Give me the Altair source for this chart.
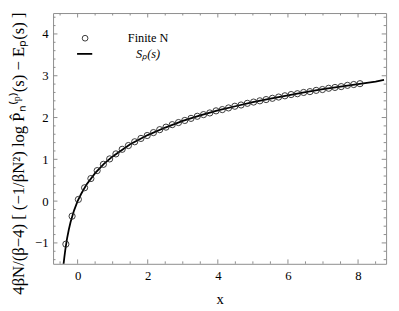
import altair as alt
import pandas as pd

# Finite N data (circles)
finite_x = [-0.335, -0.157, 0.022, 0.20, 0.379, 0.558, 0.736, 0.915, 1.093, 1.272,
            1.45, 1.629, 1.807, 1.986, 2.164, 2.343, 2.521, 2.70, 2.878, 3.057,
            3.235, 3.414, 3.592, 3.771, 3.949, 4.128, 4.306, 4.485, 4.663, 4.842,
            5.02, 5.199, 5.377, 5.556, 5.734, 5.913, 6.091, 6.27, 6.448, 6.627,
            6.805, 6.984, 7.162, 7.341, 7.519, 7.698, 7.876, 8.055]
finite_y = [-1.03, -0.36, 0.04, 0.32, 0.54, 0.73, 0.88, 1.01, 1.13, 1.24,
            1.33, 1.42, 1.50, 1.57, 1.64, 1.71, 1.77, 1.83, 1.88, 1.93,
            1.98, 2.03, 2.07, 2.11, 2.16, 2.19, 2.23, 2.27, 2.30, 2.34,
            2.37, 2.40, 2.43, 2.46, 2.49, 2.52, 2.55, 2.57, 2.60, 2.62,
            2.65, 2.67, 2.70, 2.72, 2.74, 2.77, 2.79, 2.81]

# S_p(s) curve
curve_x = [-0.41, -0.40, -0.38, -0.35, -0.30, -0.25, -0.20, -0.10, 0.0, 0.10,
           0.25, 0.50, 0.75, 1.0, 1.5, 2.0, 2.5, 3.0, 3.5, 4.0, 4.5, 5.0,
           5.5, 6.0, 6.5, 7.0, 7.5, 8.0, 8.5, 8.74]
curve_y = [-1.62, -1.50, -1.36, -1.16, -0.89, -0.68, -0.50, -0.22, 0.0, 0.17,
           0.39, 0.67, 0.89, 1.07, 1.36, 1.58, 1.76, 1.92, 2.05, 2.17, 2.27, 2.37,
           2.45, 2.53, 2.61, 2.68, 2.74, 2.80, 2.86, 2.90]

x_major = [0, 2, 4, 6, 8]
x_minor = [-0.5, 0.5, 1, 1.5, 2.5, 3, 3.5, 4.5, 5, 5.5, 6.5, 7, 7.5, 8.5]
y_major = [-1, 0, 1, 2, 3, 4]
y_minor = [-1.4, -1.2, -0.8, -0.6, -0.4, -0.2, 0.2, 0.4, 0.6, 0.8, 1.2, 1.4, 1.6, 1.8,
           2.2, 2.4, 2.6, 2.8, 3.2, 3.4, 3.6, 3.8, 4.2, 4.4]

W, H = 340, 256
XDOM = [-0.7, 8.8]
YDOM = [-1.5, 4.5]
FRAME = "#8c8c8c"
SERIF = "Liberation Serif"

xs = alt.Scale(domain=XDOM, nice=False, zero=False)
ys = alt.Scale(domain=YDOM, nice=False, zero=False)

ytitle = "4βN/(β−4) [ (−1/βN²) log P̂ₙ⁽ᵖ⁾(s) − Eₚ(s) ]"

curve_df = pd.DataFrame({"x": curve_x, "y": curve_y})
finite_df = pd.DataFrame({"x": finite_x, "y": finite_y})

line = alt.Chart(curve_df).mark_line(color="black", strokeWidth=1.8, clip=True).encode(
    x=alt.X("x:Q", scale=xs, title="x",
            axis=alt.Axis(values=x_major, tickSize=0, domain=False, grid=False,
                          labelPadding=6, titleY=36, titleBaseline="middle",
                          titleFontWeight="normal", titleFontSize=15)),
    y=alt.Y("y:Q", scale=ys, title=ytitle,
            axis=alt.Axis(values=y_major, tickSize=0, domain=False, grid=False,
                          labelPadding=5, titleX=-35, titleY=143, titleAngle=-90,
                          titleAlign="center", titleBaseline="middle",
                          titleFontWeight="normal", titleFontSize=17)),
)

points = alt.Chart(finite_df).mark_point(shape="circle", filled=False, size=40,
                                         stroke="#222222", strokeWidth=0.9, opacity=1,
                                         clip=True).encode(
    x=alt.X("x:Q", scale=xs), y=alt.Y("y:Q", scale=ys)
)


def xticks(vals, ln):
    df = pd.DataFrame({"x": vals})
    b = alt.Chart(df).mark_rule(color=FRAME, strokeWidth=1).encode(
        x=alt.X("x:Q", scale=xs), y=alt.value(H), y2=alt.value(H - ln))
    t = alt.Chart(df).mark_rule(color=FRAME, strokeWidth=1).encode(
        x=alt.X("x:Q", scale=xs), y=alt.value(0), y2=alt.value(ln))
    return [b, t]


def yticks(vals, ln):
    df = pd.DataFrame({"y": vals})
    l = alt.Chart(df).mark_rule(color=FRAME, strokeWidth=1).encode(
        y=alt.Y("y:Q", scale=ys), x=alt.value(0), x2=alt.value(ln))
    r = alt.Chart(df).mark_rule(color=FRAME, strokeWidth=1).encode(
        y=alt.Y("y:Q", scale=ys), x=alt.value(W), x2=alt.value(W - ln))
    return [l, r]


ticks = xticks(x_major, 4.5) + xticks(x_minor, 2.5) + yticks(y_major, 4.5) + yticks(y_minor, 2.5)

one = pd.DataFrame({"k": [0]})
leg_pt = alt.Chart(one).mark_point(shape="circle", filled=False, size=34,
                                   stroke="#222222", strokeWidth=0.9, opacity=1).encode(
    x=alt.value(32.7), y=alt.value(25.7))
leg_ln = alt.Chart(one).mark_rule(color="black", strokeWidth=1.8).encode(
    x=alt.value(24.5), x2=alt.value(40), y=alt.value(41.7))
leg_t1 = alt.Chart(one).mark_text(font=SERIF, fontSize=12.5, align="center",
                                  baseline="middle", color="black").encode(
    x=alt.value(97), y=alt.value(25.5), text=alt.value("Finite N"))
leg_t2 = alt.Chart(one).mark_text(font=SERIF, fontSize=12.5, fontStyle="italic", align="center",
                                  baseline="middle", color="black").encode(
    x=alt.value(97), y=alt.value(41.5), text=alt.value("Sₚ(s)"))

chart = alt.layer(line, points, *ticks, leg_pt, leg_ln, leg_t1, leg_t2).properties(
    width=W, height=H,
    autosize="none",
    padding={"left": 46, "top": 2, "right": 5, "bottom": 44},
).configure_view(
    stroke=FRAME, strokeWidth=1
).configure_axis(
    labelFont=SERIF, labelFontSize=13, labelColor="black",
    titleFont=SERIF, titleColor="black", titleFontWeight="normal",
)

chart.save("out.html", embed_options={"renderer": "svg", "actions": False})
